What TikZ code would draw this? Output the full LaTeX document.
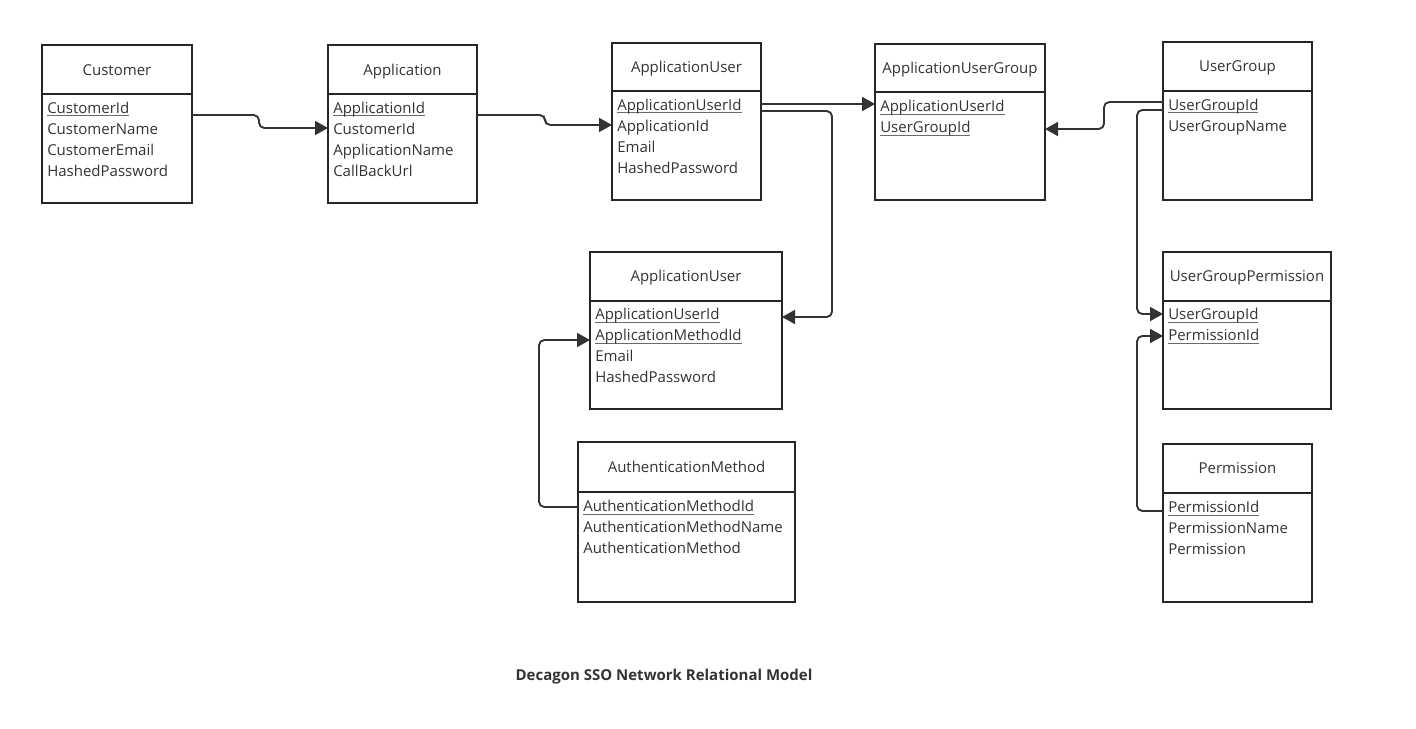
\documentclass[tikz,border=0pt]{standalone}
\usepackage{fontspec}
\setmainfont{Open Sans}
\usetikzlibrary{arrows.meta,fit}
\definecolor{boxc}{HTML}{262626}
\definecolor{linec}{HTML}{333333}
\definecolor{txtc}{HTML}{333333}
\definecolor{ulgray}{HTML}{6A6A6A}
\newcommand\ffont{\fontsize{11.25}{13}\selectfont}
\newcommand\fieldul[1]{\setbox0\hbox{#1}\rlap{\color{ulgray}\rule[-2.6pt]{\wd0}{0.9pt}}\box0}
\newcommand\erbox[6]{%
  \node[box, fit={(#2,#3) (#4,#5)}] (#1) {};
  \draw[sepl] (#1.west |- 0,#6) -- (#1.east |- 0,#6);}
\tikzset{
  box/.style={draw=boxc, line width=1.4pt, inner sep=0pt, outer sep=0pt},
  sepl/.style={draw=boxc, line width=1.4pt},
  hdr/.style={font=\ffont, text=txtc, anchor=base, inner sep=0pt},
  fld/.style={font=\ffont, text=txtc, anchor=base west, inner sep=0pt},
  conn/.style={draw=linec, line width=1.4pt, rounded corners=4pt,
    -{Triangle[length=9.75pt,width=10.5pt]}},
  ttl/.style={font=\fontsize{11.25}{13}\selectfont\bfseries, text=txtc, anchor=base, inner sep=0pt}
}
\begin{document}
\begin{tikzpicture}[x=0.75pt,y=-0.75pt]
\useasboundingbox (0,0) rectangle (1416,728);

% Customer
\erbox{cust}{42}{45}{192}{203}{94}
\node[hdr] (cust-t) at (117,75) {Customer};
\node[fld] (cust-1) at (47,113) {\fieldul{CustomerId}};
\node[fld] (cust-2) at (47,134) {CustomerName};
\node[fld] (cust-3) at (47,155) {CustomerEmail};
\node[fld] (cust-4) at (47,176) {HashedPassword};

% Application
\erbox{app}{328}{45}{477}{203}{94}
\node[hdr] (app-t) at (402.5,75) {Application};
\node[fld] (app-1) at (333,113) {\fieldul{ApplicationId}};
\node[fld] (app-2) at (333,134) {CustomerId};
\node[fld] (app-3) at (333,155) {ApplicationName};
\node[fld] (app-4) at (333,176) {CallBackUrl};

% ApplicationUser (top)
\erbox{au1}{612}{43}{761}{200}{91}
\node[hdr] (au1-t) at (686.5,72.5) {ApplicationUser};
\node[fld] (au1-1) at (617,110) {\fieldul{ApplicationUserId}};
\node[fld] (au1-2) at (617,131) {ApplicationId};
\node[fld] (au1-3) at (617,152) {Email};
\node[fld] (au1-4) at (617,173) {HashedPassword};

% ApplicationUserGroup
\erbox{aug}{875}{44}{1045}{200}{92}
\node[hdr] (aug-t) at (960,73.5) {ApplicationUserGroup};
\node[fld] (aug-1) at (880,111.5) {\fieldul{ApplicationUserId}};
\node[fld] (aug-2) at (880,132.5) {\fieldul{UserGroupId}};

% UserGroup
\erbox{ug}{1163}{42}{1312}{200}{91}
\node[hdr] (ug-t) at (1237.5,71.5) {UserGroup};
\node[fld] (ug-1) at (1168,110) {\fieldul{UserGroupId}};
\node[fld] (ug-2) at (1168,131) {UserGroupName};

% ApplicationUser (middle)
\erbox{au2}{590}{252}{782}{409}{301}
\node[hdr] (au2-t) at (686,281.5) {ApplicationUser};
\node[fld] (au2-1) at (595,319.5) {\fieldul{ApplicationUserId}};
\node[fld] (au2-2) at (595,340.5) {\fieldul{ApplicationMethodId}};
\node[fld] (au2-3) at (595,361.5) {Email};
\node[fld] (au2-4) at (595,382.5) {HashedPassword};

% AuthenticationMethod
\erbox{am}{578}{442}{795}{602}{492}
\node[hdr] (am-t) at (686.5,472.5) {AuthenticationMethod};
\node[fld] (am-1) at (583,511.5) {\fieldul{AuthenticationMethodId}};
\node[fld] (am-2) at (583,532.5) {AuthenticationMethodName};
\node[fld] (am-3) at (583,553.5) {AuthenticationMethod};

% UserGroupPermission
\erbox{ugp}{1163}{252}{1331}{409}{301}
\node[hdr] (ugp-t) at (1247,281.5) {UserGroupPermission};
\node[fld] (ugp-1) at (1168,319.5) {\fieldul{UserGroupId}};
\node[fld] (ugp-2) at (1168,340.5) {\fieldul{PermissionId}};

% Permission
\erbox{perm}{1163}{444}{1312}{602}{493}
\node[hdr] (perm-t) at (1237.5,473.5) {Permission};
\node[fld] (perm-1) at (1168,512.5) {\fieldul{PermissionId}};
\node[fld] (perm-2) at (1168,533.5) {PermissionName};
\node[fld] (perm-3) at (1168,554.5) {Permission};

% connectors
\draw[conn] (cust.east |- 0,115) -- (259,115) -- (259,128) -- (app.west |- 0,128);
\draw[conn] (app.east |- 0,115) -- (545,115) -- (545,125) -- (au1.west |- 0,125);
\draw[conn] (au1.east |- 0,104) -- (aug.west |- 0,104);
\draw[conn] (au1.east |- 0,111) -- (832,111) -- (832,317) -- (au2.east |- 0,317);
\draw[conn] (ug.west |- 0,102) -- (1104,102) -- (1104,129) -- (aug.east |- 0,129);
\draw[conn] (ug.west |- 0,110) -- (1137,110) -- (1137,314) -- (ugp.west |- 0,314);
\draw[conn] (perm.west |- 0,511) -- (1137,511) -- (1137,336) -- (ugp.west |- 0,336);
\draw[conn] (am.west |- 0,507) -- (539,507) -- (539,340) -- (au2.west |- 0,340);

% caption
\node[ttl] (caption) at (664,680) {Decagon SSO Network Relational Model};
\end{tikzpicture}
\end{document}
